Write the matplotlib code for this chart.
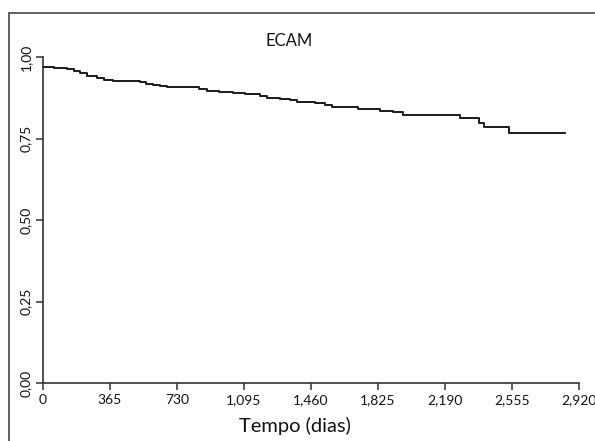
import matplotlib
matplotlib.use("Agg")
import matplotlib.pyplot as plt
from matplotlib.patches import Rectangle

plt.rcParams['font.family'] = ['Lato', 'DejaVu Sans']

# Kaplan-Meier estimate (days, survival)
tempo = [0, 60, 130, 170, 200, 240, 292, 330, 382, 450, 528, 560, 600, 640, 675,
         818, 850, 893, 960, 1035, 1100, 1182, 1220, 1290, 1345, 1383, 1473, 1482,
         1536, 1573, 1718, 1836, 1909, 1963, 2272, 2373, 2404, 2540, 2845]
sobrevida = [0.970, 0.967, 0.963, 0.958, 0.950, 0.942, 0.935, 0.930, 0.927, 0.925,
             0.924, 0.918, 0.914, 0.911, 0.909, 0.907, 0.902, 0.897, 0.893, 0.889,
             0.885, 0.881, 0.873, 0.870, 0.868, 0.863, 0.863, 0.858, 0.853, 0.848,
             0.840, 0.834, 0.830, 0.822, 0.812, 0.799, 0.784, 0.768, 0.768]

xticks = [0, 365, 730, 1095, 1460, 1825, 2190, 2555, 2920]
xticklabels = ['0', '365', '730', '1,095', '1,460', '1,825', '2,190', '2,555', '2,920']
yticks = [0.0, 0.25, 0.5, 0.75, 1.0]
yticklabels = ['0,00', '0,25', '0,50', '0,75', '1,00']

W, H = 595, 441
fig = plt.figure(figsize=(W / 100, H / 100), dpi=100)
ax = fig.add_axes([43 / W, (H - 383) / H, (579 - 43) / W, (383 - 57) / H])

ax.plot(tempo, sobrevida, drawstyle='steps-post', color='#1a1a1a', lw=1.4,
        clip_on=False)

ax.set_xlim(0, 2920)
ax.set_ylim(0, 1)
ax.set_xticks(xticks)
ax.set_xticklabels(xticklabels)
ax.set_yticks(yticks)
ax.set_yticklabels(yticklabels, rotation=90, va='center')
for s in ['top', 'right']:
    ax.spines[s].set_visible(False)
for s in ['left', 'bottom']:
    ax.spines[s].set_color('#333333')
    ax.spines[s].set_linewidth(1.2)
ax.tick_params(direction='out', length=5, width=1.1, color='#333333',
               labelsize=10, labelcolor='#111111', pad=3)

fig.text(295 / W, 1 - 426 / H, 'Tempo (dias)', ha='center', va='center',
         fontsize=14.5, color='#111111')
fig.text(289 / W, 1 - 41 / H, 'ECAM', ha='center', va='center', fontsize=12,
         color='#111111')

# outer frame (cut at right and bottom)
fig.patches.append(Rectangle((9 / W, -0.2), 1.2, 1.2 - 13 / H,
                             transform=fig.transFigure, fill=False,
                             edgecolor='#555555', lw=1.3))

fig.savefig('out.png', dpi=100)
